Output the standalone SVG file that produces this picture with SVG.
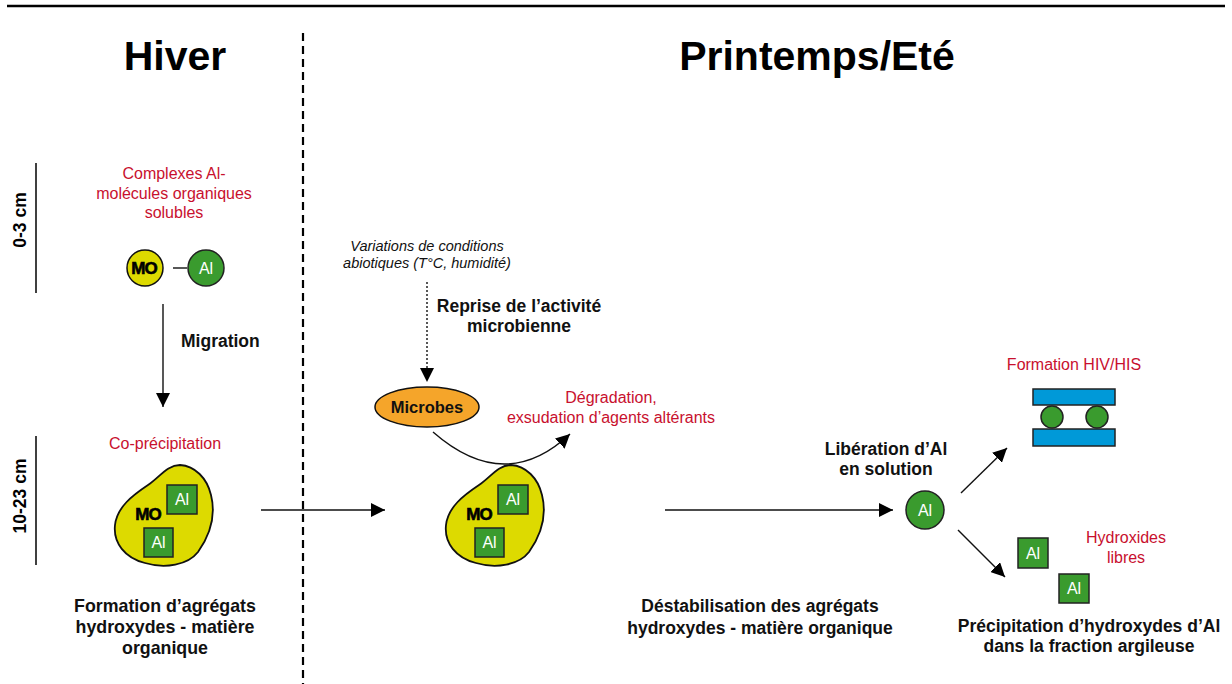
<svg xmlns="http://www.w3.org/2000/svg" width="1232" height="684" viewBox="0 0 1232 684">
<style>
text{font-family:"Liberation Sans",Arial,sans-serif}
.title{font-size:41px;font-weight:bold;fill:#000;text-anchor:middle}
.bold{font-size:17.5px;font-weight:bold;fill:#111;text-anchor:middle}
.red{font-size:16px;fill:#C8102E;text-anchor:middle}
.ital{font-size:14.5px;font-style:italic;fill:#111;text-anchor:middle}
.depth{font-size:17.5px;font-weight:bold;fill:#000;text-anchor:middle}
.al{font-size:16px;fill:#fff;text-anchor:middle}
.mo{font-size:17px;font-weight:bold;fill:#000;stroke:#000;stroke-width:0.6;text-anchor:middle;letter-spacing:-1px}
.blob{fill:#DDDA00;stroke:#111;stroke-width:1.8}
.sq{fill:#3A9B2E;stroke:#222;stroke-width:1.5}
.gc{fill:#3A9B2E;stroke:#222;stroke-width:1.5}
.yc{fill:#DDDA00;stroke:#111;stroke-width:1.5}
.bar{fill:#0099D8;stroke:#222;stroke-width:1.5}
.ln{stroke:#111;stroke-width:1.4;fill:none}
</style>
<defs>
<marker id="ah" viewBox="0 0 14 14" refX="14" refY="7" markerWidth="14" markerHeight="14" markerUnits="userSpaceOnUse" orient="auto">
<path d="M0,0 L14,7 L0,14 Z" fill="#000"/>
</marker>
<path id="blobshape" d="M 180 465 C 195 466, 207 478, 211 495 C 216 515, 210 535, 198 552 C 188 565, 165 569, 145 563 C 125 558, 113 543, 115 525 C 117 507, 133 495, 148 485 C 160 477, 167 465, 180 465 Z"/>
</defs>
<rect width="1232" height="684" fill="#fff"/>

<g id="frame">
<line x1="7" y1="6" x2="1225" y2="6" stroke="#000" stroke-width="2.5"/>
<line x1="303" y1="33" x2="303" y2="684" stroke="#000" stroke-width="2.2" stroke-dasharray="8 5"/>
<line x1="36" y1="163" x2="36" y2="293" stroke="#000" stroke-width="1.5"/>
<line x1="36" y1="436" x2="36" y2="565" stroke="#000" stroke-width="1.5"/>
</g>

<g id="titles">
<text class="title" x="175" y="70">Hiver</text>
<text class="title" x="817" y="70">Printemps/Eté</text>
<text class="depth" transform="translate(26 220) rotate(-90)">0-3 cm</text>
<text class="depth" transform="translate(26 496) rotate(-90)">10-23 cm</text>
</g>

<g id="connectors">
<line class="ln" x1="163" y1="304" x2="163" y2="407" marker-end="url(#ah)"/>
<line class="ln" x1="261" y1="510" x2="385" y2="510" marker-end="url(#ah)"/>
<line class="ln" x1="665" y1="510" x2="893" y2="510" marker-end="url(#ah)"/>
<line class="ln" x1="427" y1="282" x2="427" y2="382" stroke-dasharray="2 2" marker-end="url(#ah)"/>
<path class="ln" d="M 433 432 Q 505 495 570 434" marker-end="url(#ah)"/>
<line class="ln" x1="961" y1="493" x2="1007" y2="448" marker-end="url(#ah)"/>
<line class="ln" x1="958" y1="530" x2="1005" y2="577" marker-end="url(#ah)"/>
</g>

<g id="complexe">
<text class="red" x="174" y="179">Complexes Al-</text>
<text class="red" x="174" y="199">molécules organiques</text>
<text class="red" x="174" y="218">solubles</text>
<circle class="yc" cx="145" cy="268" r="18"/>
<text class="mo" x="144" y="274">MO</text>
<line x1="173" y1="268" x2="187" y2="268" stroke="#111" stroke-width="1.4"/>
<circle class="gc" cx="206" cy="268" r="18"/>
<text class="al" x="206" y="274">Al</text>
</g>

<g id="migration">
<text class="bold" x="181" y="347" style="text-anchor:start">Migration</text>
</g>

<g id="agregat-hiver">
<text class="red" x="165" y="449">Co-précipitation</text>
<use href="#blobshape" class="blob"/>
<rect class="sq" x="167" y="485" width="30" height="29"/>
<text class="al" x="182" y="505">Al</text>
<rect class="sq" x="144" y="528" width="29" height="29"/>
<text class="al" x="158.5" y="548">Al</text>
<text class="mo" x="148" y="520">MO</text>
<text class="bold" x="165" y="612" style="font-size:17.8px">Formation d’agrégats</text>
<text class="bold" x="165" y="633" style="font-size:17.8px">hydroxydes - matière</text>
<text class="bold" x="165" y="654" style="font-size:17.8px">organique</text>
</g>

<g id="abiotique">
<text class="ital" x="427" y="251">Variations de conditions</text>
<text class="ital" x="427" y="268">abiotiques (T°C, humidité)</text>
<text class="bold" x="519" y="312">Reprise de l’activité</text>
<text class="bold" x="519" y="332">microbienne</text>
</g>

<g id="microbes">
<ellipse cx="427" cy="407" rx="52" ry="20" fill="#F5A52A" stroke="#111" stroke-width="1.5"/>
<text x="427" y="413" style="font-size:16.5px;font-weight:bold;fill:#111;text-anchor:middle">Microbes</text>
</g>

<g id="degradation">
<text class="red" x="611" y="403">Dégradation,</text>
<text class="red" x="611" y="423">exsudation d’agents altérants</text>
</g>

<g id="agregat-ete">
<use href="#blobshape" class="blob" transform="translate(331 0)"/>
<rect class="sq" x="498" y="485" width="30" height="29"/>
<text class="al" x="513" y="505">Al</text>
<rect class="sq" x="475" y="528" width="29" height="29"/>
<text class="al" x="489.5" y="548">Al</text>
<text class="mo" x="479" y="520">MO</text>
</g>

<g id="destabilisation">
<text class="bold" x="760" y="612">Déstabilisation des agrégats</text>
<text class="bold" x="760" y="634">hydroxydes - matière organique</text>
</g>

<g id="liberation">
<text class="bold" x="886" y="455">Libération d’Al</text>
<text class="bold" x="886" y="475">en solution</text>
<circle class="gc" cx="925" cy="510" r="19"/>
<text class="al" x="925" y="516">Al</text>
</g>

<g id="hiv-his">
<text class="red" x="1074" y="370">Formation HIV/HIS</text>
<rect class="bar" x="1033" y="389" width="82" height="16"/>
<rect class="bar" x="1033" y="429" width="82" height="17"/>
<circle class="gc" cx="1052" cy="417" r="11"/>
<circle class="gc" cx="1097" cy="417" r="11"/>
</g>

<g id="hydroxydes">
<text class="red" x="1126" y="543">Hydroxides</text>
<text class="red" x="1126" y="563">libres</text>
<rect class="sq" x="1018" y="538" width="30" height="30"/>
<text class="al" x="1033" y="559">Al</text>
<rect class="sq" x="1059" y="574" width="30" height="29"/>
<text class="al" x="1074" y="594">Al</text>
<text class="bold" x="1089" y="632">Précipitation d’hydroxydes d’Al</text>
<text class="bold" x="1089" y="652">dans la fraction argileuse</text>
</g>
</svg>
